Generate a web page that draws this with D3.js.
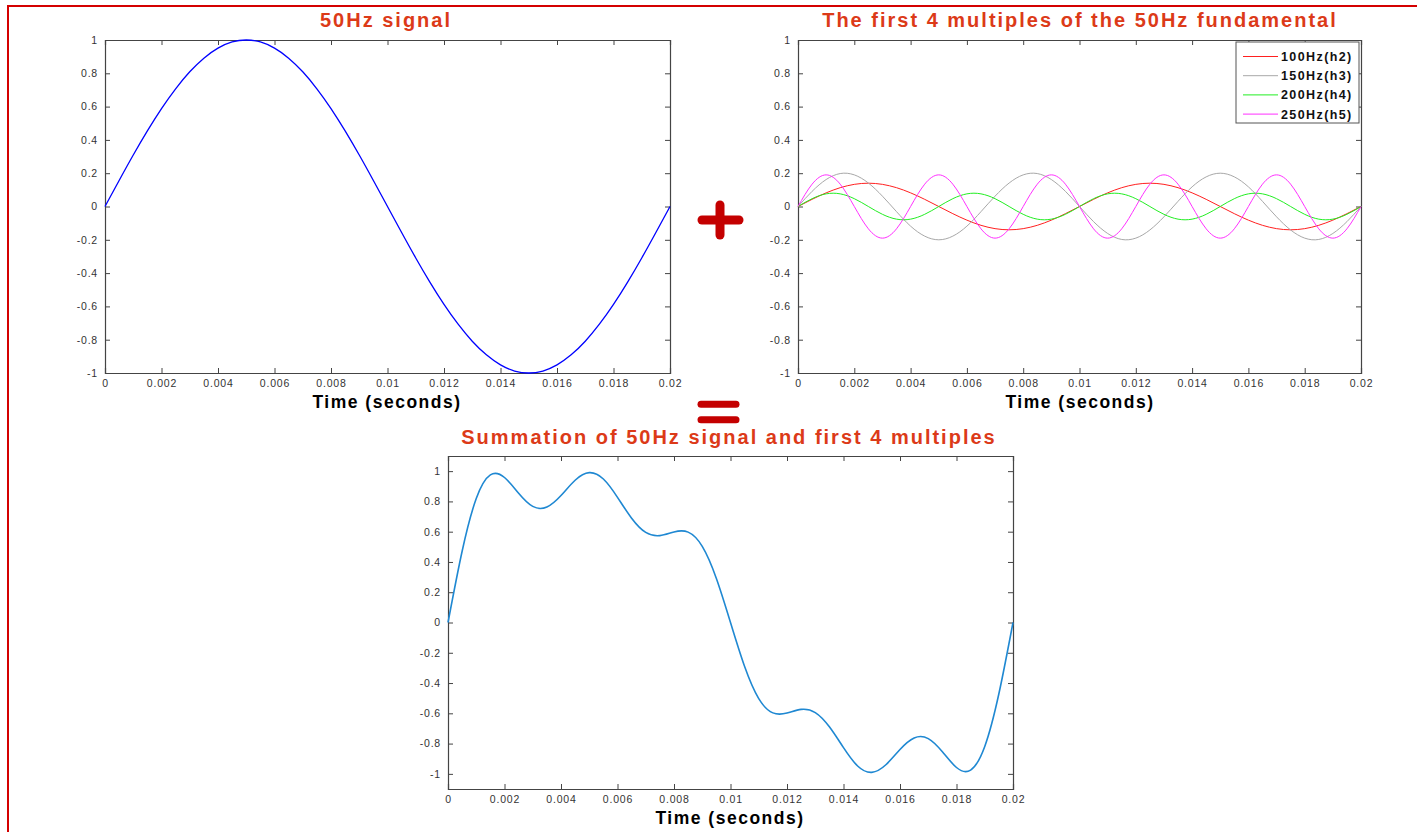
<!DOCTYPE html>
<html><head><meta charset="utf-8">
<script src="https://cdn.jsdelivr.net/npm/d3@7"></script>
<style>
html,body{margin:0;padding:0;background:#fff;}
svg{display:block;font-family:"Liberation Sans",Arial,sans-serif;}
</style></head>
<body>
<svg id="c" width="1417" height="832"></svg>
<script>
// time samples (seconds), every 0.0005 s
const time = [0,0.0005,0.001,0.0015,0.002,0.0025,0.003,0.0035,0.004,0.0045,0.005,0.0055,0.006,0.0065,0.007,0.0075,0.008,0.0085,0.009,0.0095,0.01,0.0105,0.011,0.0115,0.012,0.0125,0.013,0.0135,0.014,0.0145,0.015,0.0155,0.016,0.0165,0.017,0.0175,0.018,0.0185,0.019,0.0195,0.02];
const fundamental50 = [0,0.156,0.309,0.454,0.588,0.707,0.809,0.891,0.951,0.988,1,0.988,0.951,0.891,0.809,0.707,0.588,0.454,0.309,0.156,0,-0.156,-0.309,-0.454,-0.588,-0.707,-0.809,-0.891,-0.951,-0.988,-1,-0.988,-0.951,-0.891,-0.809,-0.707,-0.588,-0.454,-0.309,-0.156,0];
const h2 = [0,0.043,0.082,0.113,0.133,0.140,0.133,0.113,0.082,0.043,0,-0.043,-0.082,-0.113,-0.133,-0.140,-0.133,-0.113,-0.082,-0.043,0,0.043,0.082,0.113,0.133,0.140,0.133,0.113,0.082,0.043,0,-0.043,-0.082,-0.113,-0.133,-0.140,-0.133,-0.113,-0.082,-0.043,0];
const h3 = [0,0.091,0.162,0.198,0.190,0.141,0.062,-0.031,-0.118,-0.178,-0.200,-0.178,-0.118,-0.031,0.062,0.141,0.190,0.198,0.162,0.091,0,-0.091,-0.162,-0.198,-0.190,-0.141,-0.062,0.031,0.118,0.178,0.200,0.178,0.118,0.031,-0.062,-0.141,-0.190,-0.198,-0.162,-0.091,0];
const h4 = [0,0.047,0.076,0.076,0.047,0,-0.047,-0.076,-0.076,-0.047,0,0.047,0.076,0.076,0.047,0,-0.047,-0.076,-0.076,-0.047,0,0.047,0.076,0.076,0.047,0,-0.047,-0.076,-0.076,-0.047,0,0.047,0.076,0.076,0.047,0,-0.047,-0.076,-0.076,-0.047,0];
const h5 = [0,0.134,0.190,0.134,0,-0.134,-0.190,-0.134,0,0.134,0.190,0.134,0,-0.134,-0.190,-0.134,0,0.134,0.190,0.134,0,-0.134,-0.190,-0.134,0,0.134,0.190,0.134,0,-0.134,-0.190,-0.134,0,0.134,0.190,0.134,0,-0.134,-0.190,-0.134,0];
const summation = [0,0.471,0.819,0.975,0.958,0.854,0.767,0.763,0.839,0.940,0.990,0.948,0.827,0.689,0.595,0.574,0.598,0.597,0.503,0.291,0,-0.291,-0.503,-0.597,-0.598,-0.574,-0.595,-0.689,-0.827,-0.948,-0.990,-0.940,-0.839,-0.763,-0.767,-0.854,-0.958,-0.975,-0.819,-0.471,0];

const xTicks = [0,0.002,0.004,0.006,0.008,0.01,0.012,0.014,0.016,0.018,0.02];
const yTicks = [-1,-0.8,-0.6,-0.4,-0.2,0,0.2,0.4,0.6,0.8,1];
const titles = ["50Hz signal","The first 4 multiples of the 50Hz fundamental","Summation of 50Hz signal and first 4 multiples"];
const xLabel = "Time (seconds)";
const legendNames = ["100Hz(h2)","150Hz(h3)","200Hz(h4)","250Hz(h5)"];
const harmonics = [h2,h3,h4,h5];
const harmonicColors = ["#ff2020","#a8a8a8","#22ee22","#ff30ff"];

const svg = d3.select("#c");
const titleColor = "#dc3a18";
const signRed = "#c40000";

// border
svg.append("rect").attr("x",8).attr("y",6).attr("width",1430).attr("height",900)
  .attr("fill","none").attr("stroke","#d40000").attr("stroke-width",2);

function panel(L,R,T,B,yDom){
  const x = d3.scaleLinear().domain([0,0.02]).range([L,R]);
  const y = d3.scaleLinear().domain(yDom).range([B,T]);
  const g = svg.append("g");
  g.append("rect").attr("x",L).attr("y",T).attr("width",R-L).attr("height",B-T).attr("fill","#fff");
  const fmt = v => (Math.abs(v)<1e-12 ? "0" : String(+v.toFixed(3)));
  const ax = d3.axisBottom(x).tickValues(xTicks).tickSize(-5).tickPadding(7).tickFormat(fmt);
  const gb = g.append("g").attr("transform",`translate(0,${B})`).call(ax);
  const gt = g.append("g").attr("transform",`translate(0,${T})`).call(d3.axisTop(x).tickValues(xTicks).tickSize(-5).tickFormat(""));
  const ay = d3.axisLeft(y).tickValues(yTicks).tickSize(-5).tickPadding(7).tickFormat(fmt);
  const gl = g.append("g").attr("transform",`translate(${L},0)`).call(ay);
  const gr = g.append("g").attr("transform",`translate(${R},0)`).call(d3.axisRight(y).tickValues(yTicks).tickSize(-5).tickFormat(""));
  [gb,gt,gl,gr].forEach(a=>{
    a.select(".domain").attr("stroke","#444").attr("stroke-width",1.2);
    a.selectAll(".tick line").attr("stroke","#444");
    a.selectAll(".tick text").attr("fill","#333").style("font-size","10.5px")
      .style("letter-spacing","0.8px").style("font-family","'Liberation Sans',Arial,sans-serif");
  });
  return {x,y,g};
}

function drawLine(p,vals,color,w){
  const line = d3.line().x((d,i)=>p.x(time[i])).y(d=>p.y(d)).curve(d3.curveNatural);
  p.g.append("path").datum(vals).attr("d",line).attr("fill","none").attr("stroke",color).attr("stroke-width",w);
}

const p1 = panel(105,670,40,373,[-1,1]);
drawLine(p1,fundamental50,"#0000ff",1.3);
const p2 = panel(798,1361,40,373,[-1,1]);
harmonics.forEach((h,i)=>drawLine(p2,h,harmonicColors[i],1));
const p3 = panel(448,1013,456,789,[-1.1,1.1]);
drawLine(p3,summation,"#1f88d2",1.6);

// legend
const lg = svg.append("g");
lg.append("rect").attr("x",1236).attr("y",42).attr("width",123).attr("height",81)
  .attr("fill","#fff").attr("stroke","#555").attr("stroke-width",1);
legendNames.forEach((n,i)=>{
  const yy = 56.5 + i*19.2;
  lg.append("line").attr("x1",1243).attr("x2",1278).attr("y1",yy).attr("y2",yy)
    .attr("stroke",harmonicColors[i]).attr("stroke-width",1);
  lg.append("text").attr("x",1281).attr("y",yy+4.5).text(n)
    .attr("font-weight","bold").attr("font-size","12.5px").attr("fill","#111")
    .style("letter-spacing","1.4px");
});

// titles
const titlePos = [[386,27],[1080,27],[729,444]];
titles.forEach((t,i)=>{
  svg.append("text").attr("x",titlePos[i][0]).attr("y",titlePos[i][1]).attr("text-anchor","middle")
    .attr("font-weight","bold").attr("font-size","20px").attr("fill",titleColor)
    .style("letter-spacing","2px").text(t);
});
// x labels
[[387,408],[1080,408],[730,824]].forEach(p=>{
  svg.append("text").attr("x",p[0]).attr("y",p[1]).attr("text-anchor","middle")
    .attr("font-weight","bold").attr("font-size","17.5px").attr("fill","#000")
    .style("letter-spacing","1.5px").text(xLabel);
});

// plus sign
svg.append("line").attr("x1",702).attr("x2",739).attr("y1",220).attr("y2",220)
  .attr("stroke",signRed).attr("stroke-width",9).attr("stroke-linecap","round");
svg.append("line").attr("x1",720).attr("x2",720).attr("y1",205).attr("y2",235)
  .attr("stroke",signRed).attr("stroke-width",9).attr("stroke-linecap","round");
// equal sign
[404.3,419.7].forEach(yy=>{
  svg.append("line").attr("x1",701).attr("x2",736).attr("y1",yy).attr("y2",yy)
    .attr("stroke",signRed).attr("stroke-width",7).attr("stroke-linecap","round");
});
</script>
</body></html>
